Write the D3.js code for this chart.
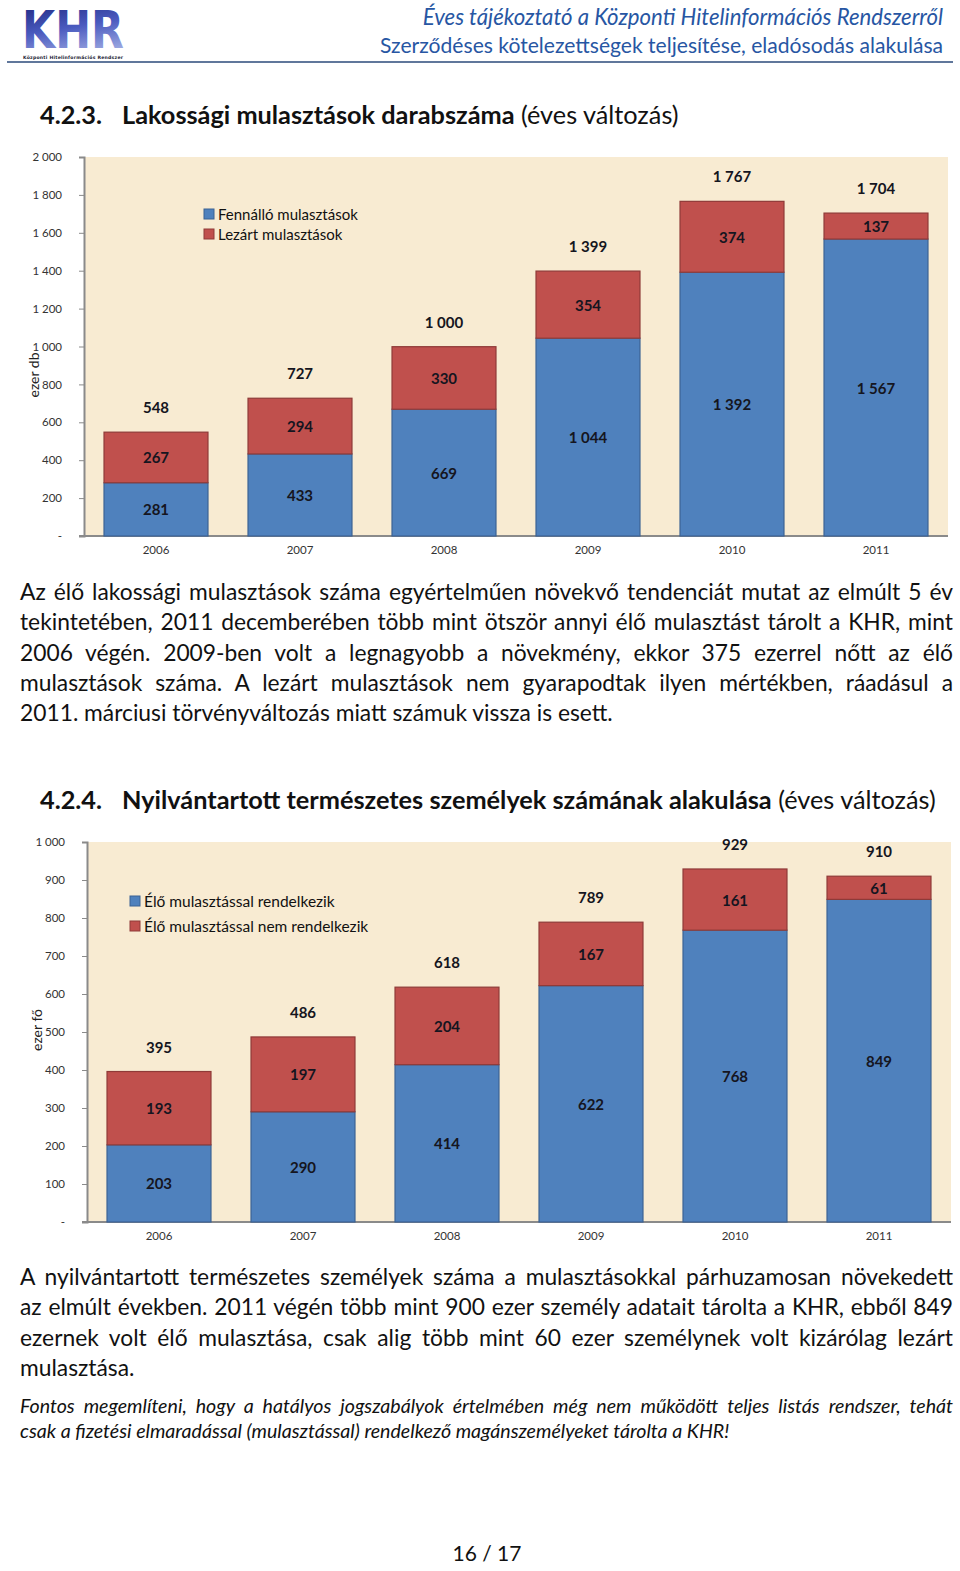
<!DOCTYPE html>
<html><head><meta charset="utf-8">
<script src="https://cdn.jsdelivr.net/npm/d3@7/dist/d3.min.js"></script>
<style>
html,body{margin:0;padding:0;background:#fff;}
body{width:960px;height:1571px;position:relative;overflow:hidden;font-family:Lato,"Open Sans",sans-serif;color:#111;}
.para{position:absolute;left:20px;width:933px;font-size:22.8px;line-height:30.3px;}
.para div{text-align:justify;text-align-last:justify;white-space:nowrap;}
.para div.last{text-align-last:left;}
.ital{font-style:italic;font-size:19.6px;line-height:25px;}
svg{position:absolute;left:0;top:0;}
</style></head>
<body>
<svg id="page" width="960" height="1571"></svg>
<div class="para" style="top:576px">
<div>Az élő lakossági mulasztások száma egyértelműen növekvő tendenciát mutat az elmúlt 5 év</div>
<div>tekintetében, 2011 decemberében több mint ötször annyi élő mulasztást tárolt a KHR, mint</div>
<div>2006 végén. 2009-ben volt a legnagyobb a növekmény, ekkor 375 ezerrel nőtt az élő</div>
<div>mulasztások száma. A lezárt mulasztások nem gyarapodtak ilyen mértékben, ráadásul a</div>
<div class="last">2011. márciusi törvényváltozás miatt számuk vissza is esett.</div>
</div>
<div class="para" style="top:1261px">
<div>A nyilvántartott természetes személyek száma a mulasztásokkal párhuzamosan növekedett</div>
<div>az elmúlt években. 2011 végén több mint 900 ezer személy adatait tárolta a KHR, ebből 849</div>
<div>ezernek volt élő mulasztása, csak alig több mint 60 ezer személynek volt kizárólag lezárt</div>
<div class="last">mulasztása.</div>
</div>
<div class="para ital" style="top:1393px">
<div>Fontos megemlíteni, hogy a hatályos jogszabályok értelmében még nem működött teljes listás rendszer, tehát</div>
<div class="last">csak a fizetési elmaradással (mulasztással) rendelkező magánszemélyeket tárolta a KHR!</div>
</div>
<script>
// ---- Data ----
const years = ["2006","2007","2008","2009","2010","2011"];
// Chart 4.2.3
const fennallo = [281, 433, 669, 1044, 1392, 1567];
const lezart   = [267, 294, 330, 354, 374, 137];
const totals1  = [548, 727, 1000, 1399, 1767, 1704];
const ticks1   = [0, 200, 400, 600, 800, 1000, 1200, 1400, 1600, 1800, 2000];
const legend1  = ["Fennálló mulasztások", "Lezárt mulasztások"];
// Chart 4.2.4
const eloVan   = [203, 290, 414, 622, 768, 849];
const eloNincs = [193, 197, 204, 167, 161, 61];
const totals2  = [395, 486, 618, 789, 929, 910];
const ticks2   = [0, 100, 200, 300, 400, 500, 600, 700, 800, 900, 1000];
const legend2  = ["Élő mulasztással rendelkezik", "Élő mulasztással nem rendelkezik"];

const fmt = v => v === 0 ? "-" : d3.format(",")(v).replace(/,/g, "\u00a0");
const svg = d3.select("#page");
const BLUE = "#4f81bd", RED = "#c0504d", BLUE_S = "#3b6294", RED_S = "#8f3a38";

// ---- Header ----
const defs = svg.append("defs");
const g = defs.append("linearGradient").attr("id","lg").attr("x1",0).attr("y1",0).attr("x2",0.3).attr("y2",1);
g.append("stop").attr("offset","0%").attr("stop-color","#1a237a");
g.append("stop").attr("offset","55%").attr("stop-color","#4a5bbf");
g.append("stop").attr("offset","100%").attr("stop-color","#9aa6e0");
svg.append("text").attr("x",22).attr("y",48).attr("font-family","'DejaVu Sans'").attr("font-weight","bold")
  .attr("font-size",52).attr("fill","url(#lg)").attr("textLength",102).attr("lengthAdjust","spacingAndGlyphs").text("KHR");
svg.append("text").attr("x",23).attr("y",58.5).attr("font-family","'DejaVu Sans'").attr("font-weight","bold")
  .attr("font-size",4.6).attr("fill","#223").attr("textLength",100).text("Központi Hitelinformációs Rendszer");
svg.append("line").attr("x1",7).attr("x2",953).attr("y1",62).attr("y2",62).attr("stroke","#2b4a7a").attr("stroke-width",1.5);
svg.append("text").attr("x",943).attr("y",25).attr("text-anchor","end").attr("font-style","italic")
  .attr("font-size",22.2).attr("fill","#2756a3").text("Éves tájékoztató a Központi Hitelinformációs Rendszerről");
svg.append("text").attr("x",943).attr("y",53).attr("text-anchor","end")
  .attr("font-size",21.1).attr("fill","#2756a3").text("Szerződéses kötelezettségek teljesítése, eladósodás alakulása");

// ---- Titles ----
function title(y, num, bold, rest){
  const t = svg.append("text").attr("y",y).attr("font-size",25.3).attr("fill","#111");
  t.append("tspan").attr("x",40).attr("font-weight","bold").text(num);
  t.append("tspan").attr("x",122).attr("font-weight","bold").text(bold);
  t.append("tspan").attr("font-weight","normal").text(" " + rest);
}
title(124, "4.2.3.", "Lakossági mulasztások darabszáma", "(éves változás)");
title(809, "4.2.4.", "Nyilvántartott természetes személyek számának alakulása", "(éves változás)");

// ---- Chart function ----
function chart(o){
  const x = d3.scaleBand().domain(years).range([o.x0, o.x1]).paddingInner(0.278).paddingOuter(0.139);
  const y = d3.scaleLinear().domain([0, o.max]).range([o.y0, o.y1]);
  const c = svg.append("g");
  c.append("rect").attr("x",o.x0).attr("y",o.y1).attr("width",o.x1-o.x0).attr("height",o.y0-o.y1).attr("fill","#f8ebd2");
  // y axis
  const ya = c.append("g").attr("transform",`translate(${o.x0},0)`)
    .call(d3.axisLeft(y).tickValues(o.ticks).tickSize(5).tickPadding(17).tickFormat(fmt));
  ya.select(".domain").attr("stroke","#8a8a8a").attr("stroke-width",2);
  ya.selectAll(".tick line").attr("stroke","#8a8a8a");
  ya.selectAll(".tick text").attr("font-family","Lato").attr("font-size",11.5).attr("fill","#333");
  // x axis
  const xa = c.append("g").attr("transform",`translate(0,${o.y0})`)
    .call(d3.axisBottom(x).tickSize(0).tickPadding(10));
  xa.select(".domain").attr("stroke","#8a8a8a").attr("stroke-width",2).attr("d",`M${o.x0-5},0H${o.x1}`);
  xa.selectAll(".tick text").attr("font-family","Lato").attr("font-size",11.5).attr("fill","#333");
  // bars
  const rows = years.map((yr,i)=>({yr, a:o.a[i], b:o.b[i], t:o.t[i]}));
  const bg = c.append("g");
  bg.selectAll(".ba").data(rows).join("rect").attr("x",d=>x(d.yr)).attr("width",x.bandwidth())
    .attr("y",d=>y(d.a)).attr("height",d=>y(0)-y(d.a)).attr("fill",BLUE).attr("stroke",BLUE_S).attr("stroke-width",1.2);
  bg.selectAll(".bb").data(rows).join("rect").attr("x",d=>x(d.yr)).attr("width",x.bandwidth())
    .attr("y",d=>y(d.a+d.b)).attr("height",d=>y(d.a)-y(d.a+d.b)).attr("fill",RED).attr("stroke",RED_S).attr("stroke-width",1.2);
  const lab = (sel)=>sel.attr("text-anchor","middle").attr("dominant-baseline","central")
    .attr("font-family","Lato").attr("font-weight","bold").attr("font-size",15).attr("fill","#151520");
  bg.selectAll(".la").data(rows).join("text").call(lab).attr("x",d=>x(d.yr)+x.bandwidth()/2)
    .attr("y",d=>(y(0)+y(d.a))/2).text(d=>fmt(d.a));
  bg.selectAll(".lb").data(rows).join("text").call(lab).attr("x",d=>x(d.yr)+x.bandwidth()/2)
    .attr("y",d=>(y(d.a)+y(d.a+d.b))/2).text(d=>fmt(d.b));
  bg.selectAll(".lt").data(rows).join("text").call(lab).attr("x",d=>x(d.yr)+x.bandwidth()/2)
    .attr("y",d=>y(d.a+d.b)-25).text(d=>fmt(d.t));
  // axis title
  c.append("text").attr("transform",`translate(${o.tx},${o.ty}) rotate(-90)`).attr("text-anchor","middle")
    .attr("dominant-baseline","central").attr("font-family","Lato").attr("font-size",14).attr("fill","#222").text(o.title);
  // legend
  const lg = c.append("g");
  [BLUE, RED].forEach((col,i)=>{
    lg.append("rect").attr("x",o.lx).attr("y",o.ly+i*o.lgap-5).attr("width",10).attr("height",10)
      .attr("fill",col).attr("stroke",i?RED_S:BLUE_S).attr("stroke-width",1);
    lg.append("text").attr("x",o.lx+14).attr("y",o.ly+i*o.lgap).attr("dominant-baseline","central")
      .attr("font-family","Lato").attr("font-size",o.lfs).attr("fill","#111").text(o.legend[i]);
  });
}

chart({x0:84, x1:948, y0:536, y1:157, max:2000, ticks:ticks1, a:fennallo, b:lezart, t:totals1,
  title:"ezer db", tx:33, ty:375, legend:legend1, lx:204, ly:214, lgap:20, lfs:15});
chart({x0:87, x1:951, y0:1222, y1:842, max:1000, ticks:ticks2, a:eloVan, b:eloNincs, t:totals2,
  title:"ezer fő", tx:36, ty:1030, legend:legend2, lx:130, ly:901, lgap:25, lfs:15.5});

// footer
svg.append("text").attr("x",487).attr("y",1561).attr("text-anchor","middle").attr("font-family","Lato")
  .attr("font-size",21).attr("fill","#111").text("16 / 17");
</script>
</body></html>
